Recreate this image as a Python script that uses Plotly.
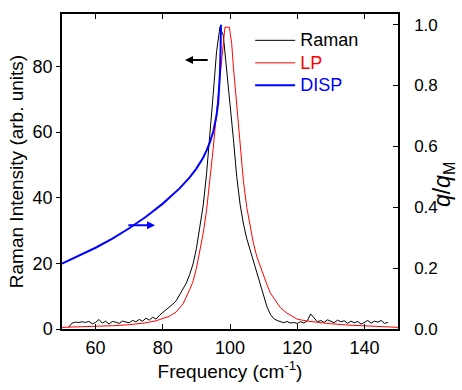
import plotly.graph_objects as go

# Raman spectrum (left axis)
raman_x = list(range(52, 148))
raman_y = [0.6, 1.8, 2.1, 2.0, 2.2, 2.0, 2.3, 1.6, 2.0, 2.9,
           1.8, 2.4, 1.5, 2.3, 2.1, 1.7, 2.4, 2.2, 1.9, 2.6,
           2.2, 2.9, 2.4, 3.3, 2.7, 3.6, 3.0, 4.2, 5.0, 5.8,
           6.6, 7.6, 8.6, 10.3, 12.0, 14.0, 16.6, 19.8, 24.5, 31.0,
           37.5, 47.0, 58.5, 71.5, 84.5, 92.0, 89.5, 80.0, 68.5, 58.0,
           46.5, 38.0, 32.0, 27.5, 24.0, 20.5, 17.0, 13.5, 10.0, 6.8,
           4.5, 3.2, 2.6, 2.2, 1.9, 2.3, 1.8, 2.0, 1.7, 2.2,
           1.8, 2.5, 4.6, 3.4, 2.2, 2.6, 2.0, 2.8, 2.3, 1.9,
           2.7, 2.2, 2.5, 1.7, 2.4, 1.9, 2.3, 1.5, 2.0, 2.6,
           1.8, 2.4, 2.1, 2.6, 1.7, 2.0]

# LP curve (left axis)
lp_x = [50, 55, 60, 65, 70, 75, 78, 80, 82, 84, 86, 88, 89, 90, 91, 92, 93, 94, 95, 96,
        97, 97.8, 98.5, 99.8, 100.5, 101, 102, 103, 104, 105, 106, 107, 108, 109, 110,
        111, 112, 113, 115, 117, 120, 123, 126, 130, 135, 140, 145, 150]
lp_y = [0.5, 0.6, 0.8, 1.0, 1.3, 1.9, 2.5, 3.1, 3.9, 5.2, 7.6, 12.0, 14.5, 18.5, 23.5, 29.0,
        36.0, 45.0, 55.0, 66.0, 77.0, 86.0, 92.0, 92.0, 87.0, 80.0, 68.0, 56.0, 45.0, 37.0,
        31.0, 26.0, 22.0, 19.0, 16.0, 13.5, 11.0, 9.5, 6.5, 4.8, 3.0, 2.4, 2.0, 1.6, 1.2,
        0.9, 0.7, 0.5]

# DISP curve (right axis, q/qM)
disp_x = [50, 55, 60, 65, 70, 75, 80, 85, 88, 90, 92, 93, 94, 95, 95.5, 96, 96.5,
          96.8, 97.0, 97.2, 97.3]
disp_y = [0.215, 0.240, 0.267, 0.297, 0.331, 0.369, 0.412, 0.462, 0.498, 0.527,
          0.563, 0.586, 0.613, 0.648, 0.672, 0.702, 0.745, 0.79, 0.84, 0.92, 1.0]

FONT = "Liberation Sans, Arial, sans-serif"

fig = go.Figure()
fig.add_trace(go.Scatter(x=raman_x, y=raman_y, mode="lines",
                         line=dict(color="black", width=1),
                         name='<span style="font-size:18px">Raman</span>'))
fig.add_trace(go.Scatter(x=lp_x, y=lp_y, mode="lines",
                         line=dict(color="red", width=1),
                         name='<span style="color:red;font-size:18px">LP</span>'))
fig.add_trace(go.Scatter(x=disp_x, y=disp_y, mode="lines", yaxis="y2",
                         line=dict(color="blue", width=2),
                         name='<span style="color:blue;font-size:18px">DISP</span>'))

fig.add_annotation(x=86.6, y=82, ax=93.8, ay=82, xref="x", yref="y",
                   axref="x", ayref="y", showarrow=True, arrowhead=2,
                   arrowsize=0.8, arrowwidth=2, arrowcolor="black", text="")
fig.add_annotation(x=77.7, y=31.6, ax=69.3, ay=31.6, xref="x", yref="y",
                   axref="x", ayref="y", showarrow=True, arrowhead=2,
                   arrowsize=0.8, arrowwidth=2, arrowcolor="blue", text="")

# right-axis title
fig.add_annotation(text="<i>q</i>/<i>q</i><sub>M</sub>", xref="paper", yref="paper",
                   x=1.134, y=0.457, xanchor="center", yanchor="middle",
                   textangle=-90, showarrow=False, font=dict(size=23))

fig.update_layout(
    width=462, height=390,
    margin=dict(l=62, r=64, t=13, b=51),
    paper_bgcolor="white", plot_bgcolor="white",
    font=dict(family=FONT, size=18, color="black"),
    showlegend=True,
    legend=dict(x=0.56, y=0.968, xanchor="left", yanchor="top",
                bgcolor="rgba(0,0,0,0)", font=dict(size=15),
                tracegroupgap=0, itemwidth=40),
    xaxis=dict(range=[50, 150], tickvals=[60, 80, 100, 120, 140],
               ticks="inside", ticklen=5, tickwidth=1, tickcolor="black",
               showline=True, linecolor="black", linewidth=1.5, mirror="ticks",
               showgrid=False, zeroline=False, ticklabelstandoff=2,
               title=dict(text="Frequency (cm<sup>-1</sup>)", standoff=6,
                          font=dict(size=19))),
    yaxis=dict(range=[0, 96], tickvals=[0, 20, 40, 60, 80],
               ticks="outside", ticklen=4, tickcolor="black",
               showline=True, linecolor="black", linewidth=1.5,
               showgrid=False, zeroline=False,
               title=dict(text="Raman Intensity (arb. units)", standoff=4,
                          font=dict(size=19))),
    yaxis2=dict(range=[0, 1.035], tickvals=[0, 0.2, 0.4, 0.6, 0.8, 1.0],
                tickformat=".1f", overlaying="y", side="right",
                ticks="inside", ticklen=5, tickcolor="black",
                tickfont=dict(size=17),
                showline=True, linecolor="black", linewidth=1.5,
                showgrid=False, zeroline=False, ticklabelstandoff=11),
)

fig.write_html("out.html",
               config={"displayModeBar": False},
               post_script="document.body.style.margin='0';document.body.style.padding='0';")
